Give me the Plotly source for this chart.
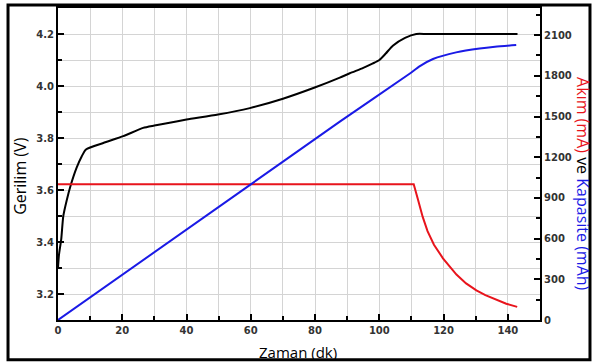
import plotly.graph_objects as go

# Voltage (V) vs time (min)
time_v = [0, 0.3, 1, 1.65, 2.7, 4.0, 5.8, 7.4, 8.7, 14.1, 20.3, 26.5, 30, 34.3, 40,
          49.8, 59.7, 70, 79.9, 87.7, 90.8, 95, 98, 100, 102, 104.2, 108, 111.5, 115, 143]
voltage = [3.30, 3.35, 3.41, 3.50, 3.56, 3.62, 3.686, 3.73, 3.756, 3.781, 3.807, 3.839,
           3.848, 3.858, 3.871, 3.89, 3.915, 3.951, 3.994, 4.032, 4.049, 4.07, 4.087,
           4.10, 4.125, 4.155, 4.185, 4.20, 4.20, 4.20]

# Current (mA)
time_i = [0, 110.7, 112, 113.5, 115, 117, 119.8, 122, 124, 127, 130.2, 133, 136.4, 139.5, 142.9]
current = [1000, 1000, 890, 760, 655, 555, 455, 390, 335, 270, 218, 183, 148, 120, 97]

# Capacity (mAh)
time_c = [0, 60, 87.7, 109.4, 112.5, 116.7, 123.9, 131.2, 136, 142.6]
capacity = [0, 1000, 1462, 1815, 1870, 1924, 1973, 2002, 2015, 2027]

fig = go.Figure()
fig.add_trace(go.Scatter(x=time_v, y=voltage, mode="lines",
                         line=dict(color="black", width=2, shape="spline", smoothing=0.6),
                         yaxis="y", showlegend=False))
fig.add_trace(go.Scatter(x=time_i, y=current, mode="lines",
                         line=dict(color="#e8141c", width=2),
                         yaxis="y2", showlegend=False))
fig.add_trace(go.Scatter(x=time_c, y=capacity, mode="lines",
                         line=dict(color="#1a1ae6", width=2, shape="spline", smoothing=0.6),
                         yaxis="y2", showlegend=False))

tickfont = dict(family="DejaVu Sans", size=10, color="#333333", weight="bold")
grid = "#d4d4d4"

fig.update_layout(
    width=593, height=364,
    margin=dict(l=58, r=53, t=6, b=44),
    paper_bgcolor="white", plot_bgcolor="white",
    xaxis=dict(range=[0, 150], dtick=20, tick0=0, ticks="inside", ticklen=6, tickwidth=2,
               tickcolor="black", showline=True, linecolor="black", linewidth=2, mirror=True,
               showgrid=True, gridcolor=grid, gridwidth=1, zeroline=False,
               minor=dict(dtick=10, ticks="inside", ticklen=4, tickwidth=1.5, tickcolor="black",
                          showgrid=True, gridcolor=grid, gridwidth=1),
               tickfont=tickfont),
    yaxis=dict(range=[3.1, 4.3], dtick=0.2, tick0=3.2, ticks="inside", ticklen=6, tickwidth=2,
               tickcolor="black", showline=True, linecolor="black", linewidth=2,
               showgrid=True, gridcolor=grid, gridwidth=1, zeroline=False, tickformat=".1f",
               minor=dict(dtick=0.1, ticks="inside", ticklen=4, tickwidth=1.5, tickcolor="black",
                          showgrid=True, gridcolor=grid, gridwidth=1),
               tickfont=tickfont),
    yaxis2=dict(range=[0, 2300], dtick=300, tick0=0, overlaying="y", side="right",
                ticks="inside", ticklen=6, tickwidth=2, tickcolor="black",
                showline=True, linecolor="black", linewidth=2, showgrid=False, zeroline=False,
                minor=dict(dtick=150, ticks="inside", ticklen=4, tickwidth=1.5, tickcolor="black",
                           showgrid=False),
                tickfont=tickfont),
    annotations=[
        dict(text="Gerilim (V)", xref="paper", yref="paper", x=-0.0788, y=0.462,
             textangle=-90, showarrow=False, xanchor="center", yanchor="middle",
             font=dict(family="Open Sans", size=16, color="black")),
        dict(text="Zaman (dk)", xref="paper", yref="paper", x=0.498, y=-0.102,
             showarrow=False, xanchor="center", yanchor="middle",
             font=dict(family="Open Sans", size=15, color="black")),
        dict(text="<span style='color:#e8141c'>Akım (mA)</span> ve "
                  "<span style='color:#1a1ae6'>Kapasite (mAh)</span>",
             xref="paper", yref="paper", x=1.089, y=0.436, textangle=90,
             showarrow=False, xanchor="center", yanchor="middle",
             font=dict(family="Open Sans", size=16, color="black")),
    ],
    shapes=[
        dict(type="rect", xref="paper", yref="paper", x0=-0.1037, x1=1.1037,
             y0=-0.1274, y1=1.0096, line=dict(color="black", width=3), layer="above"),
    ],
)

fig.write_html("out.html", config={"displayModeBar": False},
               post_script="document.body.style.margin='0';document.body.style.overflow='hidden';")
